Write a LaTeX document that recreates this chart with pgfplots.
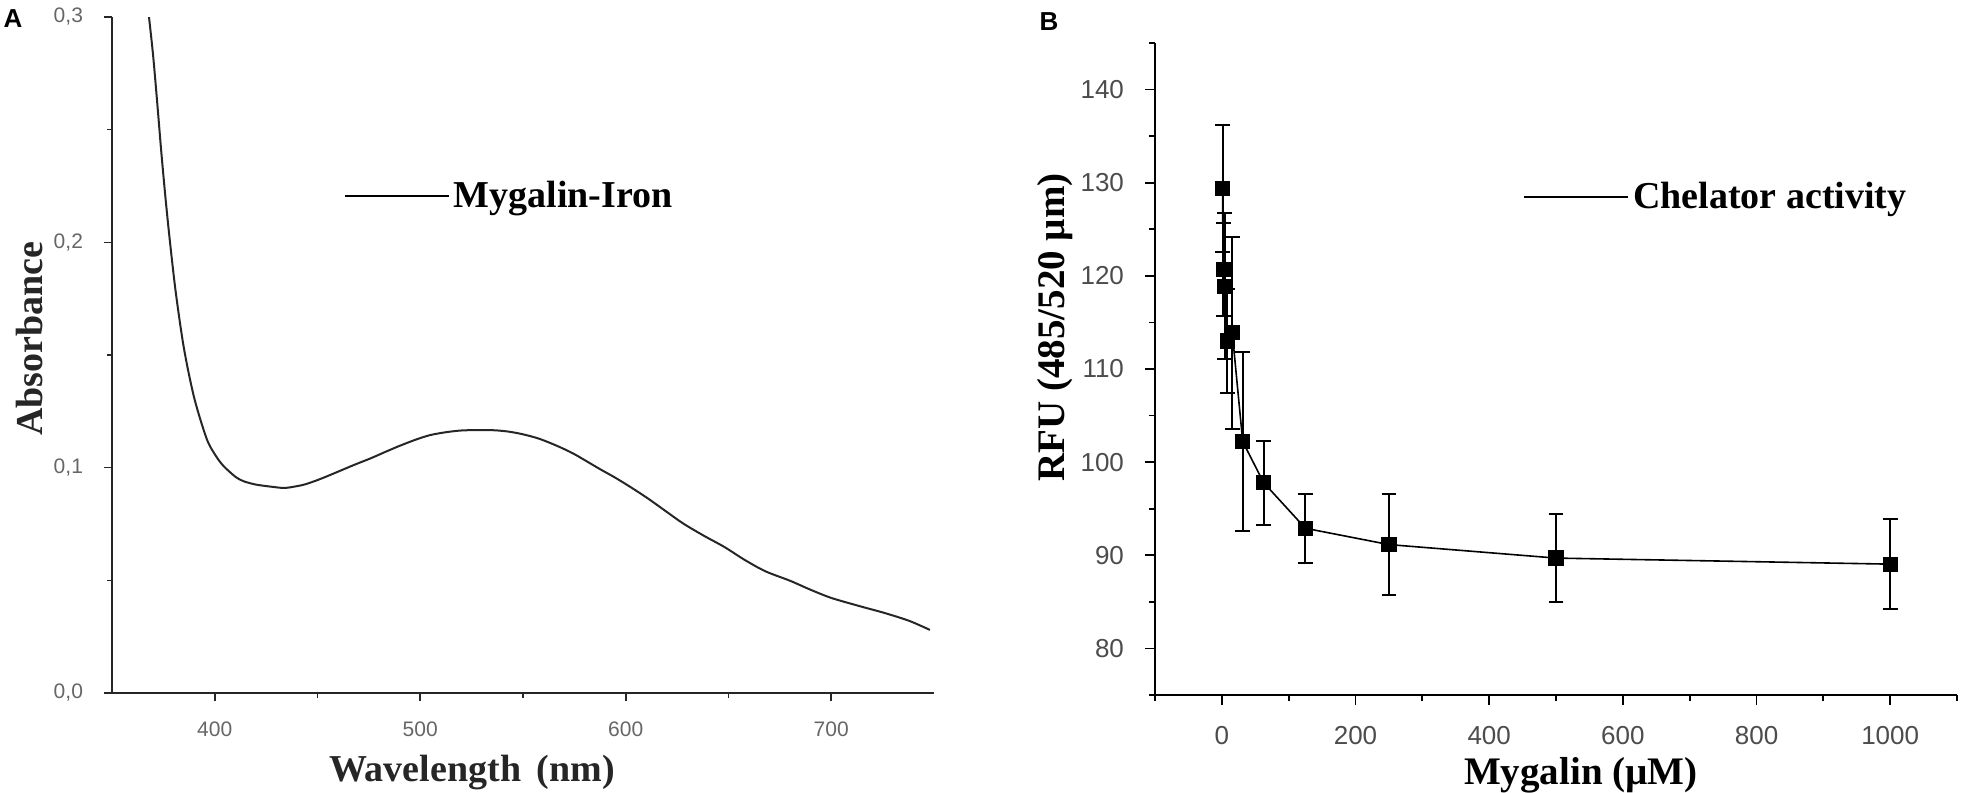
\documentclass[border=0pt]{standalone}
\usepackage{fontspec}
\setmainfont{Liberation Serif}
\newfontfamily\arial{Liberation Sans}
\usepackage{pgfplots}
\usepackage{pgfplotstable}
\pgfplotsset{compat=1.18}

\pgfplotstableread{
nm abs
368 0.300
370 0.283
372 0.262
374 0.240
376 0.220
378 0.202
381 0.178
385 0.153
390 0.131
396 0.113
400 0.106
404 0.101
410 0.096
414 0.094
420 0.0925
428 0.0915
434 0.0910
440 0.0918
444 0.0926
450 0.0945
456 0.0967
462 0.0990
468 0.1013
476 0.1042
483 0.1070
490 0.1097
498 0.1125
505 0.1145
513 0.1158
520 0.1165
528 0.1167
536 0.1166
543 0.1160
550 0.1148
558 0.1128
567 0.1095
575 0.1060
587 0.0996
595 0.0955
603 0.0910
611 0.0862
619 0.0810
628 0.0752
638 0.0698
648 0.0648
658 0.0590
668 0.0540
680 0.0498
690 0.0458
700 0.0422
714 0.0385
726 0.0355
738 0.0320
748 0.0280
}\spectrum

\pgfplotstableread{
x y e
1 129.4 6.8
2 120.7 5.0
4 118.9 7.8
8 113.0 5.6
15.6 113.9 10.3
31.25 102.2 9.6
62.5 97.8 4.5
125 92.9 3.7
250 91.15 5.4
500 89.7 4.7
1000 89.05 4.85
}\chelator

\begin{document}
\begin{tikzpicture}
\useasboundingbox (0,0) rectangle (981pt,-396pt);
\node[font=\arial\bfseries\fontsize{13}{13}\selectfont, inner sep=0pt] at (6.5pt,-9.5pt) {A};
\node[font=\arial\bfseries\fontsize{13}{13}\selectfont, inner sep=0pt] at (524.5pt,-11pt) {B};

% Panel A
\begin{axis}[
  at={(56pt,-346.5pt)}, anchor=south west,
  scale only axis, width=411pt, height=338pt,
  xmin=350, xmax=750, ymin=0, ymax=0.3,
  axis lines=left, axis line style={line width=1pt, -, black!85},
  clip=true,
  tick align=outside,
  major tick length=4pt, minor tick length=2.5pt,
  tick style={line width=0.8pt, black!85},
  xtick={400,500,600,700}, minor xtick={450,550,650},
  ytick={0,0.1,0.2,0.3}, minor ytick={0.05,0.15,0.25},
  yticklabels={{0,0},{0,1},{0,2},{0,3}},
  /pgf/number format/assume math mode=true,
  tick label style={font=\arial\fontsize{10.5}{10.5}\selectfont, text=black!60},
  xticklabel style={yshift=-7pt},
  yticklabel style={xshift=-7pt},
  xlabel={Wavelength\, (nm)},
  ylabel={Absorbance},
  label style={font=\bfseries\fontsize{19}{19}\selectfont, text=black!85},
  xlabel style={at={(axis description cs:0.438,-0.118)}, anchor=center},
  ylabel style={at={(axis description cs:-0.0998,0.524)}, anchor=center, rotate=0},
  legend style={at={(axis description cs:0.282,0.735)}, anchor=west, draw=none, fill=none,
    inner sep=0pt, outer sep=0pt, font=\bfseries\fontsize{19}{19}\selectfont,
    /tikz/every even column/.append style={column sep=0pt}},
  legend image code/.code={\draw[line width=1pt, black] (0pt,0pt) -- (52pt,0pt);},
]
\addplot[line width=1pt, black!85, smooth] table[x=nm, y=abs] {\spectrum};
\addlegendentry{Mygalin-Iron}
\end{axis}

% Panel B
\begin{axis}[
  at={(577.5pt,-347.5pt)}, anchor=south west,
  scale only axis, width=401pt, height=326pt,
  xmin=-100, xmax=1100, ymin=75, ymax=145,
  axis lines=left, axis line style={line width=1.1pt, -, black},
  clip=false,
  tick align=outside,
  major tick length=5pt, minor tick length=3pt,
  tick style={line width=0.9pt, black},
  xtick={0,200,400,600,800,1000}, minor xtick={-100,100,300,500,700,900,1100},
  ytick={80,90,100,110,120,130,140}, minor ytick={75,85,95,105,115,125,135,145},
  /pgf/number format/assume math mode=true,
  /pgf/number format/1000 sep={},
  tick label style={font=\arial\fontsize{13}{13}\selectfont, text=black!70},
  xticklabel style={yshift=-7pt},
  yticklabel style={xshift=-7pt},
  xlabel={Mygalin (µM)},
  ylabel={RFU (485/520 µm)},
  label style={font=\bfseries\fontsize{19.5}{19.5}\selectfont},
  xlabel style={at={(axis description cs:0.531,-0.123)}, anchor=center},
  ylabel style={at={(axis description cs:-0.125,0.564)}, anchor=center, rotate=0},
  legend style={at={(axis description cs:0.459,0.764)}, anchor=west, draw=none, fill=none,
    inner sep=0pt, outer sep=0pt, font=\bfseries\fontsize{19}{19}\selectfont,
    /tikz/every even column/.append style={column sep=0pt}},
  legend image code/.code={\draw[line width=1pt, black] (0pt,0pt) -- (52pt,0pt);},
]
\addplot[black, line width=0.8pt, mark=square*, mark size=3.4pt,
  mark options={solid},
  error bars/.cd, y dir=both, y explicit,
  error bar style={line width=1pt},
  error mark options={rotate=90, mark size=3.7pt, line width=1pt}]
  table[x=x, y=y, y error=e] {\chelator};
\addlegendentry{Chelator activity}
\end{axis}
\end{tikzpicture}
\end{document}
